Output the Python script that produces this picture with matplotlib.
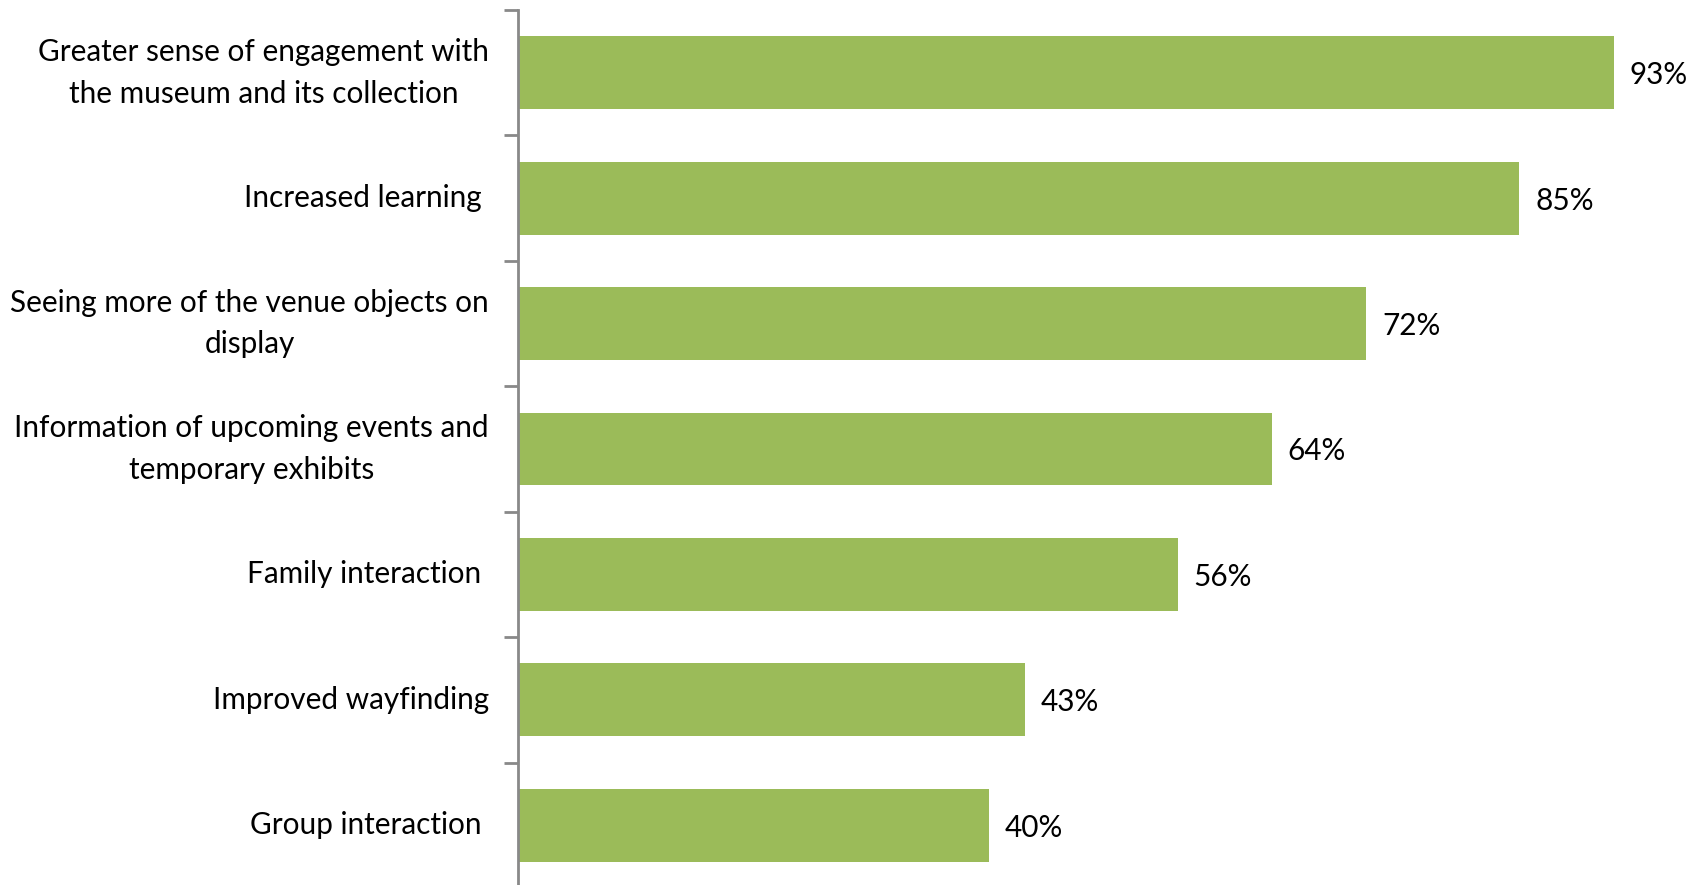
import matplotlib.pyplot as plt

categories = [
    "Greater sense of engagement with\nthe museum and its collection",
    "Increased learning ",
    "Seeing more of the venue objects on\ndisplay",
    "Information of upcoming events and\ntemporary exhibits",
    "Family interaction ",
    "Improved wayfinding",
    "Group interaction ",
]
values = [93, 85, 72, 64, 56, 43, 40]

plt.rcParams['font.family'] = ['Lato', 'DejaVu Sans']

fig = plt.figure(figsize=(17.01, 8.85), dpi=100)
ax = fig.add_axes([518 / 1701, -3 / 885, 1 - 518 / 1701 - 5 / 1701, 878 / 885])

pos = list(range(len(categories)))
ax.barh(pos, values, height=0.58, color='#9BBB59')
ax.set_ylim(len(categories) - 0.5, -0.5)
ax.set_xlim(0, 100)

for p, v in zip(pos, values):
    ax.text(v + 1.35, p, f"{v}%", va='center_baseline', ha='left', fontsize=21.4, color='black')

ax.set_yticks(pos)
ax.set_yticklabels(categories, fontsize=21.4, multialignment='center',
                   linespacing=1.6, va='center')
ax.tick_params(axis='y', length=0, pad=21)
# boundary ticks between categories
ax.set_yticks([p + 0.5 for p in range(-1, len(categories))], minor=True)
ax.tick_params(axis='y', which='minor', length=10, width=2, color='#898989')
ax.set_xticks([])

for s in ['top', 'right', 'bottom']:
    ax.spines[s].set_visible(False)
ax.spines['left'].set_color('#898989')
ax.spines['left'].set_linewidth(2)

fig.savefig('out.png', dpi=100)
